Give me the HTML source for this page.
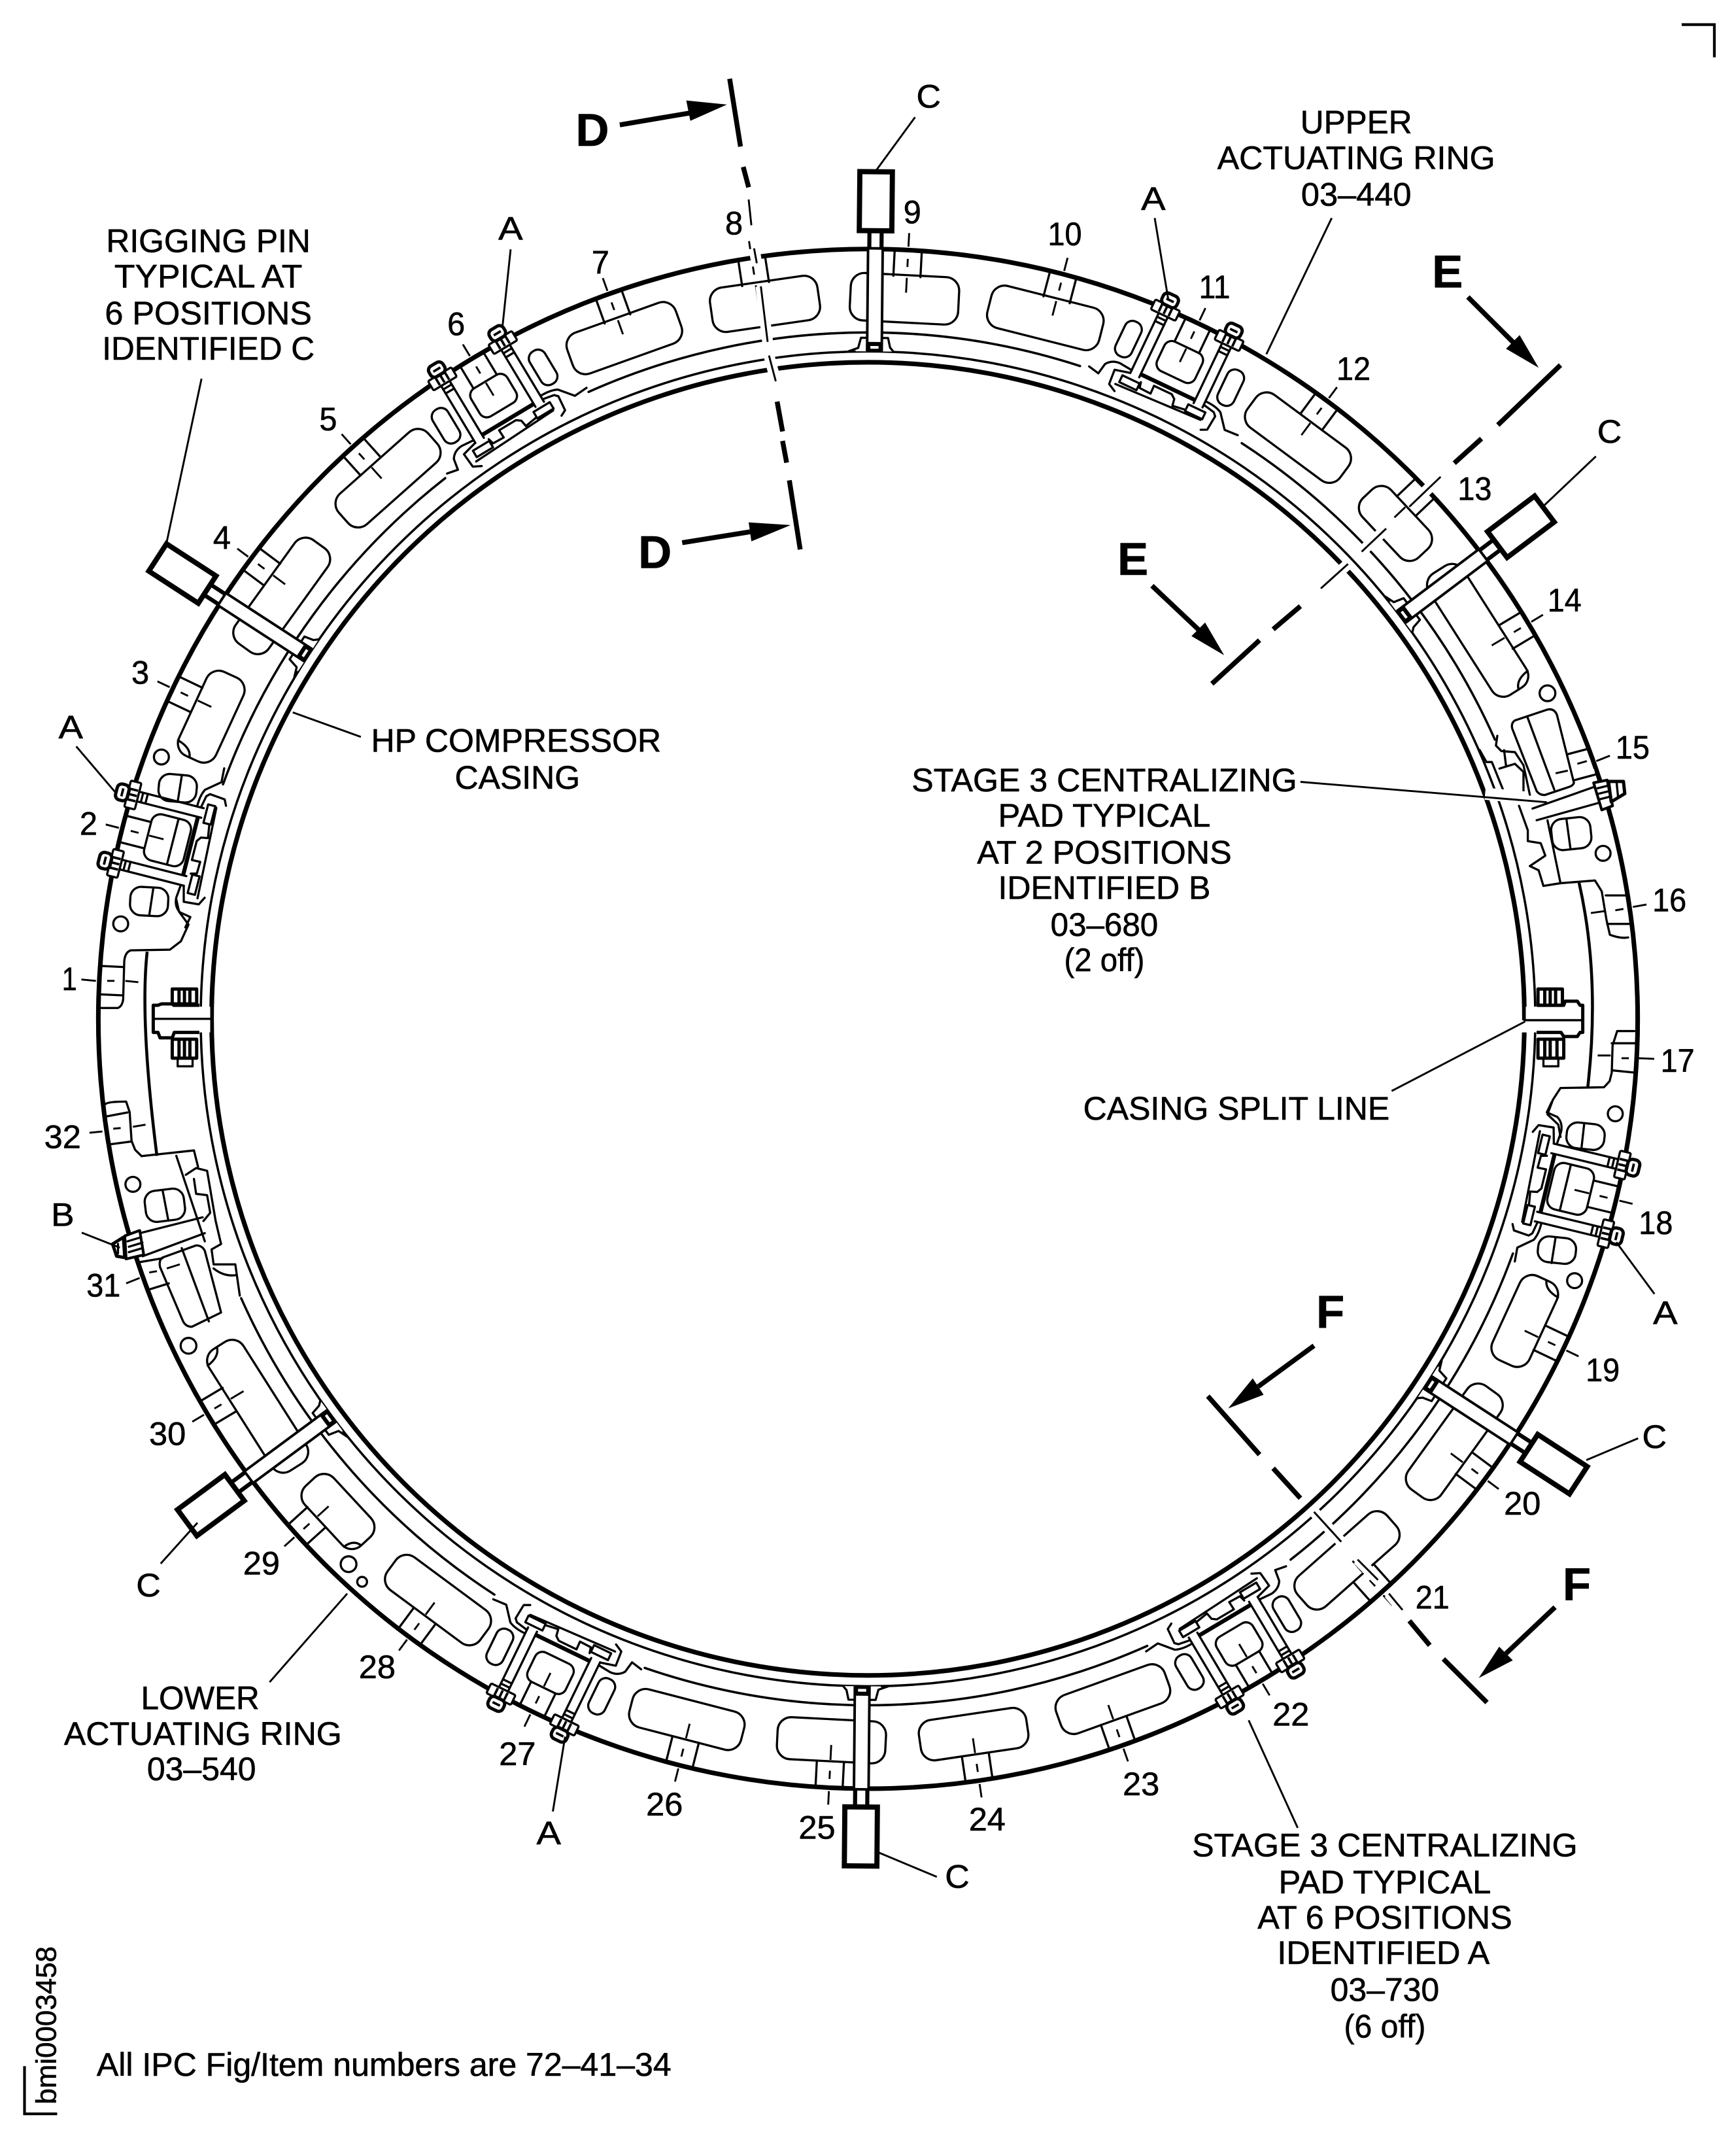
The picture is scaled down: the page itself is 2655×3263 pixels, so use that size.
<!DOCTYPE html>
<html><head><meta charset="utf-8"><title>Actuating ring</title>
<style>
html,body{margin:0;padding:0;background:#fff}
svg{display:block}
.t{fill:none;stroke:#000;stroke-width:1.6;stroke-linejoin:round;stroke-linecap:round}
.w{fill:#fff;stroke:#000;stroke-width:1.6;stroke-linejoin:round}
.m{fill:none;stroke:#000;stroke-width:2.4;stroke-linejoin:round}
.l{fill:none;stroke:#000;stroke-width:1.4}
.s{fill:none;stroke:#000;stroke-width:3.6}
.h{fill:none;stroke:#fff;stroke-width:8}
text{font-family:"Liberation Sans",sans-serif;font-size:24px;fill:#000;text-anchor:middle;stroke:#000;stroke-width:.3}
.b{font-weight:bold;font-size:34px}
</style></head><body>
<svg xmlns="http://www.w3.org/2000/svg" width="2655" height="3263" viewBox="0 0 1280 1573">
<defs>
<g id="win">
 <path class="t" d="M630 183V203M650 183V203"/>
 <path class="l" d="M640 190V196M640 204V215M640 171V181"/>
</g>
<g id="clamp">
 <path class="t" d="M610.5 189V238M617.8 189V238M662.2 189V238M669.5 189V238"/>
 <path d="M618 235.5H662" stroke="#000" stroke-width="3" fill="none"/>
 <path class="t" d="M620.4 240.7L621.5 245L630.5 245.3L630.3 239H644.8L648 241.4L648.9 246.5L659 245"/>
 <rect class="w" x="606" y="242" width="14" height="5.5"/>
 <rect class="w" x="659" y="240.5" width="14" height="5.5"/>
 <path class="t" d="M604 250L672 247"/>
 <path class="t" d="M581 246.6L589.3 248.3L590.8 240Q594 235 600.6 234.7L610 235.6M610 238L599 240.8L599.9 252L605.7 255"/>
 <path class="t" d="M670 236L678.5 237.7L680.7 240L679.6 251.4L675.3 253.5M670 233Q678 233 682.9 235.6L691.3 246L701.7 245.4"/>
 <rect class="w" x="604" y="181" width="20" height="8" rx="1"/>
 <rect class="w" x="656" y="181" width="20" height="8" rx="1"/>
 <rect class="m" x="608" y="172.5" width="12" height="9" rx="3.5"/>
 <rect class="m" x="660" y="172.5" width="12" height="9" rx="3.5"/>
 <path class="m" style="stroke-width:1.8" d="M611 177H617M663 177H669M610 182V188M614 182V188M618 182V188M662 182V188M666 182V188M670 182V188"/>
 <path class="t" d="M610.5 192H617.8M610.5 195.5H617.8M662.2 192H669.5M662.2 195.5H669.5"/>
</g>
<g id="slots">
 <rect class="t" x="592" y="202" width="13" height="28" rx="6"/>
 <rect class="t" x="675.5" y="202" width="13" height="28" rx="6"/>
</g>
<g id="pin">
 <path class="w" d="M626 259L628 256L630 249H650L651.5 256L654 259Z" style="stroke:none"/>
 <path class="t" d="M621 259L628 256.5L630 249H650L651.5 256L654 259"/>
 <rect x="634" y="170" width="12" height="14" fill="#000"/>
 <rect x="637" y="169" width="6" height="16" fill="#fff"/>
 <rect x="634.6" y="183" width="10.8" height="75" fill="#fff" stroke="#000" stroke-width="1.9"/>
 <rect x="634.6" y="252" width="10.8" height="7.5" fill="#000"/>
 <rect x="637" y="255" width="6" height="2" fill="#fff"/>
 <rect x="628" y="126.5" width="24" height="43.5" fill="#fff" stroke="#000" stroke-width="3.8"/>
</g>
</defs>
<rect width="1280" height="1573" fill="#fff"/>

<!-- main rings -->
<circle cx="640" cy="751" r="567.5" fill="none" stroke="#000" stroke-width="3.4"/>
<circle cx="640" cy="751" r="484" fill="none" stroke="#000" stroke-width="3.4"/>
<circle cx="640" cy="751" r="492" class="t" style="stroke-width:1.7"/>
<circle cx="640" cy="751" r="506" class="t" style="stroke-width:1.7" pathLength="360" transform="rotate(-90 640 751)" stroke-dasharray="18 15 33 44 32 14 43 14 33 44 32 14 24" />

<!-- pockets -->
<g transform="rotate(-19.7 640 751)"><rect class="t" x="597.5" y="202" width="85" height="32" rx="10"/></g><g transform="rotate(-19.7 640 751)"><use href="#win"/></g>
<g transform="rotate(-8.2 640 751)"><rect class="t" x="600" y="202" width="80" height="33" rx="10"/></g><g transform="rotate(-8.7 640 751)"><use href="#win"/></g>
<g transform="rotate(2.9 640 751)"><rect class="t" x="600" y="202" width="80" height="35" rx="10"/></g><g transform="rotate(3 640 751)"><use href="#win"/></g>
<g transform="rotate(14.2 640 751)"><rect class="t" x="597.5" y="202" width="85" height="32" rx="10"/></g><g transform="rotate(14.7 640 751)"><use href="#win"/></g>
<g transform="rotate(36.5 640 751)"><rect class="t" x="597.5" y="203" width="85" height="30" rx="10"/></g><g transform="rotate(36.6 640 751)"><use href="#win"/></g>
<g transform="rotate(46.8 640 751)"><rect class="t" x="610" y="203" width="60" height="29" rx="10"/></g><g transform="rotate(46.4 640 751)"><use href="#win"/></g>
<g transform="rotate(57.5 640 751)"><rect class="t" x="587" y="203" width="106" height="30" rx="10"/><path class="t" d="M693 216Q686 214 685 203"/></g><g transform="rotate(59.1 640 751)"><use href="#win"/></g>
<g transform="rotate(114.7 640 751)"><rect class="t" x="606" y="203" width="68" height="30" rx="10"/><path class="t" d="M606 216Q613 214 614 203"/></g><g transform="rotate(115.4 640 751)"><use href="#win"/></g>
<g transform="rotate(125.8 640 751)"><rect class="t" x="593" y="203" width="94" height="30" rx="10"/></g><g transform="rotate(126.7 640 751)"><use href="#win"/></g>
<g transform="rotate(138.5 640 751)"><rect class="t" x="596" y="203" width="88" height="30" rx="10"/></g><g transform="rotate(138.2 640 751)"><use href="#win"/></g>
<g transform="rotate(160.2 640 751)"><rect class="t" x="597.5" y="203" width="85" height="30" rx="10"/></g><g transform="rotate(160.7 640 751)"><use href="#win"/></g>
<g transform="rotate(171.6 640 751)"><rect class="t" x="600" y="203" width="80" height="30" rx="10"/></g><g transform="rotate(171.7 640 751)"><use href="#win"/></g>
<g transform="rotate(182.9 640 751)"><rect class="t" x="600" y="203" width="80" height="31" rx="10"/></g><g transform="rotate(182.9 640 751)"><use href="#win"/></g>
<g transform="rotate(194.5 640 751)"><rect class="t" x="597.5" y="203" width="85" height="29" rx="10"/></g><g transform="rotate(194.2 640 751)"><use href="#win"/></g>
<g transform="rotate(216.5 640 751)"><rect class="t" x="597.5" y="203" width="85" height="30" rx="10"/></g><g transform="rotate(216.6 640 751)"><use href="#win"/></g>
<g transform="rotate(227.1 640 751)"><rect class="t" x="610" y="203" width="60" height="29" rx="10"/><path class="t" d="M610 213Q617 212 618 203"/></g><g transform="rotate(227.9 640 751)"><use href="#win"/></g>
<g transform="rotate(237.6 640 751)"><rect class="t" x="587" y="203" width="106" height="30" rx="10"/><path class="t" d="M693 216Q686 214 685 203"/></g><g transform="rotate(239.2 640 751)"><use href="#win"/></g>
<g transform="rotate(294.7 640 751)"><rect class="t" x="606" y="203" width="68" height="30" rx="10"/><path class="t" d="M606 216Q613 214 614 203"/></g><g transform="rotate(295.4 640 751)"><use href="#win"/></g>
<g transform="rotate(305.8 640 751)"><rect class="t" x="593" y="203" width="94" height="30" rx="10"/></g><g transform="rotate(306.7 640 751)"><use href="#win"/></g>
<g transform="rotate(318.4 640 751)"><rect class="t" x="596" y="203" width="88" height="30" rx="10"/></g><g transform="rotate(318 640 751)"><use href="#win"/></g>

<!-- clamps -->
<g transform="rotate(25.4 640 751)"><use href="#slots"/><rect class="t" x="624.5" y="203" width="31" height="24" rx="6"/><use href="#win"/><use href="#clamp"/></g>
<g transform="rotate(329 640 751)"><use href="#slots"/><rect class="t" x="624.5" y="203" width="31" height="24" rx="6"/><use href="#win"/><use href="#clamp"/></g>
<g transform="rotate(149.3 640 751)"><use href="#slots"/><rect class="t" x="624.5" y="203" width="31" height="24" rx="6"/><use href="#win"/><use href="#clamp"/></g>
<g transform="rotate(205.9 640 751)"><use href="#slots"/><rect class="t" x="624.5" y="203" width="31" height="24" rx="6"/><use href="#win"/><use href="#clamp"/></g>
<g transform="rotate(103.6 640 751)"><rect class="t" x="622.5" y="203" width="35" height="30" rx="7"/><path class="t" d="M622.5 222H657.5"/><use href="#win"/><use href="#clamp"/></g>
<g transform="rotate(284.3 640 751)"><rect class="t" x="622.5" y="203" width="35" height="30" rx="7"/><path class="t" d="M622.5 222H657.5"/><use href="#win"/><use href="#clamp"/></g>

<!-- slots and holes at side clamps -->
<rect class="t" x="1144" y="603" width="29" height="23" rx="8" transform="rotate(-6 1158 614)"/><path class="t" d="M1155 604L1158 626"/>
<rect class="t" x="1155" y="828" width="28" height="19" rx="8" transform="rotate(6 1169 838)"/><path class="t" d="M1168 829L1166 847"/>
<rect class="t" x="1134" y="912" width="28" height="19" rx="8" transform="rotate(6 1148 921)"/><path class="t" d="M1147 912L1144 931"/>
<rect class="t" x="117" y="571" width="28" height="20" rx="8" transform="rotate(5 131 581)"/><path class="t" d="M134 572L131 591"/>
<rect class="t" x="96" y="654" width="28" height="21" rx="8" transform="rotate(3 110 664)"/><path class="t" d="M113 655L110 675"/>
<rect class="t" x="107" y="877" width="29" height="23" rx="8" transform="rotate(-7 121 888)"/><path class="t" d="M120 878L124 899"/>
<circle class="t" cx="1182" cy="629" r="5.5"/><circle class="t" cx="1191" cy="821" r="5.5"/><circle class="t" cx="1161" cy="944" r="5.5"/><circle class="t" cx="1141" cy="511" r="5.8"/>
<circle class="t" cx="119" cy="558" r="5.5"/><circle class="t" cx="89" cy="681" r="5.5"/><circle class="t" cx="98" cy="873" r="5.5"/><circle class="t" cx="139" cy="992" r="5.8"/>
<circle class="t" cx="257" cy="1153" r="5.8"/><circle class="t" cx="267" cy="1166" r="3.6"/>

<!-- pad right (B, stage 3) -->
<rect x="1110" y="575" width="70" height="28" fill="#fff" transform="rotate(-14 1145 590)"/>
<path class="t" d="M1130 596L1175.5 580M1133 604.6L1178 592"/>
<path class="t" d="M1104 542.4L1103 549.6L1107 553.6L1117 554.4L1123.3 564L1128 585.8M1105.6 566.5L1117 563L1123.3 569V583M1091 552.8L1096 561.7H1100L1109 584M1109 553L1110.4 564"/>
<path class="t" d="M1120 594L1126.5 612V620L1136 621.5L1139.4 630.7L1128 638.4L1134.5 641.5L1138 653L1150.6 651L1141 604.6"/>
<path class="t" d="M1150.6 651L1176 649L1181 657L1184.5 678L1187 689Q1195 692 1200.5 691"/>
<path class="t" d="M1184 660H1199M1185 681H1201"/>
<path class="l" d="M1191 671L1197 670M1173 673L1183 671.6M1204 668.5L1214 666.7"/>
<polygon class="w" style="stroke-width:2" points="1175,577 1185,575 1189,594 1181,597"/>
<polygon class="w" style="stroke-width:2.4" points="1186,576 1197,576 1198,585 1188,591"/>
<path class="t" d="M1178 581L1186 579M1179 585L1187 583M1180 589L1188 587M1192 577L1193 587"/>
<!-- pocket 15 -->
<path class="t" d="M1117 531L1141 523Q1146 522 1148 527L1160.5 577Q1160 579 1157 580L1139 586Q1135 586 1133 583L1115 537Q1114 533 1117 531Z"/>
<path class="t" d="M1126 528L1146 582M1155.6 556L1170.7 552M1161 575L1176 571"/>
<path class="l" d="M1163 563L1170 561M1147 570L1156 568M1177 561L1187 557"/>

<!-- pad left (B, stage 3) -->
<rect x="105" y="900" width="55" height="22" fill="#fff" transform="rotate(-12 130 910)"/>
<path class="t" d="M103 909L149.4 897.3M105.2 926L151 909"/>
<polygon class="w" style="stroke-width:2" points="92,911 103,907 106,925 93,928"/>
<polygon class="w" style="stroke-width:2.4" points="83,917 91,912 92,927 86,926"/>
<path class="t" d="M94 915L104 912M95 919L105 916M95 923L105 920M87 917V924"/>
<path class="t" d="M130 852L151 915M143 848L146 860M137 866L144.6 861L152.7 863L159 900L163 917L156 921L157.5 932L173.5 932L176.8 955M143 869L144.6 880L152.7 881L155 894L150 900M157.5 935Q165 941 173.5 940"/>
<!-- pocket 31 -->
<path class="t" d="M119.7 927L144.6 918Q149 918 151 922L163 967.5L141.4 978Q137 978 135 974L118 934Q117 929 119.7 927Z"/>
<path class="t" d="M134 920L154 974M102 930.5L119.7 927.5M110 950.5L124.5 946"/>
<path class="l" d="M110 938L115.7 937M93 946L103 942M123 935L132.6 932"/>

<!-- left tabs -->
<path class="t" d="M130 663L132 672L139 681.5L133.4 693.8L125.3 700L96.4 700.5Q92 702 91.6 709L90.8 736.8Q90 742 86.8 743H74.7"/>
<path class="t" d="M74.7 712L90.8 712.8M74.7 733L90.8 733.7"/>
<path class="l" d="M79 723L84.4 723M60 722L70.7 723M92.4 723L102 724"/>
<path d="M108.5 701.5Q103 752 115.7 852" fill="none" stroke="#000" stroke-width="2.2"/>
<path class="t" d="M78 813.7Q80 812 93 812L95.6 819.8L97 841L99.6 847.5L104.4 852.2L143 848"/>
<path class="t" d="M78 823L94 820M81 843.5L97 841.4"/>
<path class="l" d="M83.5 832L89 831.5M66 835L75.5 834M98 830.6L107.3 829"/>

<!-- right tabs -->
<path d="M1164.3 650.7Q1180 720 1170.7 801.4" fill="none" stroke="#000" stroke-width="2.2"/>
<path class="t" d="M1205 760H1192.4L1189 770.6L1188.4 790.6L1186.8 797L1182.7 801.4L1150.6 802L1145 810.6L1141 821.4L1149 829L1150.6 838"/>
<path class="t" d="M1188.4 769L1206 769M1189 789L1205 790.6"/>
<path class="l" d="M1195.6 780L1201 780M1178 778L1187.6 778M1208.4 780L1219.7 780.5"/>

<!-- flanges -->
<rect x="1125" y="742" width="42" height="19" fill="#fff"/>
<rect x="113" y="742" width="42" height="19" fill="#fff"/>
<path d="M1123 752V761" stroke="#fff" stroke-width="5"/>
<path class="m" d="M1133 741H1153L1154 738H1163L1165 741H1167V761H1165L1163 764H1153L1151 761H1133"/>
<path class="t" d="M1124 752H1167" />
<path class="m" d="M147 741H128L127 740H119L116.5 741H113V761H116.5L118 765H127L128.5 761H147"/>
<path class="t" d="M113 751H156"/>
<rect class="m" x="1134" y="729" width="18" height="12"/><path class="m" d="M1139 730V740M1143 730V740M1147 730V740"/>
<rect class="m" x="1134" y="766" width="19" height="14"/><path class="m" d="M1139 767V779M1143 767V779M1148 767V779"/>
<rect class="t" x="1138" y="780" width="11" height="6"/>
<rect class="m" x="127" y="729" width="18" height="11"/><path class="m" d="M132 730V739M136 730V739M140 730V739"/>
<rect class="m" x="127" y="766" width="18" height="14"/><path class="m" d="M132 767V779M136 767V779M140 767V779"/>
<rect class="t" x="131" y="780" width="11" height="6"/>

<!-- halo for stage 3 leader -->
<path d="M1095 585L1126 588" stroke="#fff" stroke-width="9" fill="none"/>

<!-- rigging pins -->
<g transform="rotate(0.55 640 751)"><use href="#pin"/></g>
<g transform="rotate(53 640 751)"><use href="#pin"/></g>
<g transform="rotate(123 640 751)"><use href="#pin"/></g>
<g transform="rotate(180.5 640 751)"><use href="#pin"/></g>
<g transform="rotate(233.5 640 751)"><use href="#pin"/></g>
<g transform="rotate(303 640 751)"><use href="#pin"/></g>

<!-- section D -->
<path class="h" d="M552 147L554 166M556 183L558 194M561 211L566 252M567 262L572 281"/>
<path class="s" d="M538 58L546 108M548 123L552 138M573 296L577 318M577 325L580 341M582 354L590 405"/>
<path class="l" d="M552 147L554 166M556 183L558 194M561 211L566 252M567 262L572 281"/>
<path class="s" d="M457 92L510 83M503 400L553 392"/>
<polygon points="536,77 506,74 509,89"/>
<polygon points="583,387 552,385 554,399"/>

<g transform="scale(1.004)">
<!-- section E -->
<path class="h" d="M1058 350L1035 372M1018 388L1000 405M990 414L970 432"/>
<path class="s" d="M1146 268L1100 312M1088 322L1068 340M955 445L935 462M925 470L890 502"/>
<path class="l" d="M1058 350L1035 372M1018 388L1000 405M990 414L970 432"/>
<path class="s" d="M1078 218L1112 252M846 430L881 463"/>
<polygon points="1130,270 1116,246 1106,256"/>
<polygon points="899,481 885,457 875,467"/>

<!-- section F -->
<path class="h" d="M965 1110L985 1132M997 1145L1012 1160M1020 1170L1030 1182"/>
<path class="s" d="M887 1025L925 1068M935 1078L955 1100M1035 1190L1050 1208M1060 1218L1092 1250"/>
<path class="l" d="M965 1110L985 1132M997 1145L1012 1160M1020 1170L1030 1182"/>
<path class="s" d="M965 988L924 1018M1142 1180L1106 1214"/>
<polygon points="902,1034 928,1024 920,1012"/>
<polygon points="1086,1232 1111,1219 1101,1209"/>

<!-- leaders -->
<path class="l" d="M672 86L642 127M1172 335L1133 372M1203 1056L1165 1072M118 1148L145 1118M688 1378L645 1360M148 278L122 400"/>
<path class="l" d="M848 160L858 220M375 183L369 240M56 548L85 582M1215 950L1187 912M406 1330L415 1275M60 905L88 916"/>
<path class="l" d="M978 160L930 260M265 541L215 523M955 574L1136 589M1022 801L1120 750M198 1235L255 1170M953 1342L917 1263"/>

<!-- corner marks -->
<path d="M1235 18H1259V42" fill="none" stroke="#000" stroke-width="2"/>
<path d="M18 1517V1552H42" fill="none" stroke="#000" stroke-width="2"/>

<!-- text -->
<text x="682" y="79" textLength="18" lengthAdjust="spacingAndGlyphs">C</text>
<text x="1182" y="325" textLength="18" lengthAdjust="spacingAndGlyphs">C</text>
<text x="1215" y="1063" textLength="18" lengthAdjust="spacingAndGlyphs">C</text>
<text x="109" y="1172" textLength="18" lengthAdjust="spacingAndGlyphs">C</text>
<text x="703" y="1386" textLength="18" lengthAdjust="spacingAndGlyphs">C</text>
<text x="375" y="176" textLength="18" lengthAdjust="spacingAndGlyphs">A</text>
<text x="847" y="154" textLength="18" lengthAdjust="spacingAndGlyphs">A</text>
<text x="52" y="542" textLength="18" lengthAdjust="spacingAndGlyphs">A</text>
<text x="1223" y="972" textLength="18" lengthAdjust="spacingAndGlyphs">A</text>
<text x="403" y="1354" textLength="18" lengthAdjust="spacingAndGlyphs">A</text>
<text x="46" y="900" textLength="17" lengthAdjust="spacingAndGlyphs">B</text>

<text class="b" x="435" y="107">D</text>
<text class="b" x="481" y="417">D</text>
<text class="b" x="1063" y="211">E</text>
<text class="b" x="832" y="422">E</text>
<text class="b" x="977" y="975">F</text>
<text class="b" x="1158" y="1175">F</text>

<text x="153" y="185" textLength="150" lengthAdjust="spacingAndGlyphs">RIGGING PIN</text>
<text x="153" y="211" textLength="138" lengthAdjust="spacingAndGlyphs">TYPICAL AT</text>
<text x="153" y="238" textLength="152" lengthAdjust="spacingAndGlyphs">6 POSITIONS</text>
<text x="153" y="264" textLength="156" lengthAdjust="spacingAndGlyphs">IDENTIFIED C</text>
<text x="996" y="98" textLength="82" lengthAdjust="spacingAndGlyphs">UPPER</text>
<text x="996" y="124" textLength="204" lengthAdjust="spacingAndGlyphs">ACTUATING RING</text>
<text x="996" y="151" textLength="81" lengthAdjust="spacingAndGlyphs">03–440</text>
<text x="379" y="552" textLength="213" lengthAdjust="spacingAndGlyphs">HP COMPRESSOR</text>
<text x="380" y="579" textLength="92" lengthAdjust="spacingAndGlyphs">CASING</text>
<text x="811" y="581" textLength="283" lengthAdjust="spacingAndGlyphs">STAGE 3 CENTRALIZING</text>
<text x="811" y="607" textLength="156" lengthAdjust="spacingAndGlyphs">PAD TYPICAL</text>
<text x="811" y="634" textLength="187" lengthAdjust="spacingAndGlyphs">AT 2 POSITIONS</text>
<text x="811" y="660" textLength="156" lengthAdjust="spacingAndGlyphs">IDENTIFIED B</text>
<text x="811" y="687" textLength="79" lengthAdjust="spacingAndGlyphs">03–680</text>
<text x="811" y="713" textLength="59" lengthAdjust="spacingAndGlyphs">(2 off)</text>
<text x="908" y="822" textLength="225" lengthAdjust="spacingAndGlyphs">CASING SPLIT LINE</text>
<text x="147" y="1255" textLength="87" lengthAdjust="spacingAndGlyphs">LOWER</text>
<text x="149" y="1281" textLength="204" lengthAdjust="spacingAndGlyphs">ACTUATING RING</text>
<text x="148" y="1307" textLength="80" lengthAdjust="spacingAndGlyphs">03–540</text>
<text x="1017" y="1363" textLength="283" lengthAdjust="spacingAndGlyphs">STAGE 3 CENTRALIZING</text>
<text x="1017" y="1390" textLength="156" lengthAdjust="spacingAndGlyphs">PAD TYPICAL</text>
<text x="1017" y="1416" textLength="187" lengthAdjust="spacingAndGlyphs">AT 6 POSITIONS</text>
<text x="1016" y="1442" textLength="156" lengthAdjust="spacingAndGlyphs">IDENTIFIED A</text>
<text x="1017" y="1469" textLength="80" lengthAdjust="spacingAndGlyphs">03–730</text>
<text x="1017" y="1496" textLength="60" lengthAdjust="spacingAndGlyphs">(6 off)</text>
<text x="282" y="1524" textLength="422" lengthAdjust="spacingAndGlyphs">All IPC Fig/Item numbers are 72–41–34</text>
<text x="0" y="0" transform="translate(41 1487) rotate(-90)" style="font-size:21px" textLength="116" lengthAdjust="spacingAndGlyphs">bmi0003458</text>

<text x="51" y="727" textLength="11" lengthAdjust="spacingAndGlyphs">1</text>
<text x="65" y="613" textLength="13" lengthAdjust="spacingAndGlyphs">2</text>
<text x="103" y="502" textLength="13" lengthAdjust="spacingAndGlyphs">3</text>
<text x="163" y="403" textLength="13" lengthAdjust="spacingAndGlyphs">4</text>
<text x="241" y="316" textLength="13" lengthAdjust="spacingAndGlyphs">5</text>
<text x="335" y="246" textLength="13" lengthAdjust="spacingAndGlyphs">6</text>
<text x="441" y="201" textLength="13" lengthAdjust="spacingAndGlyphs">7</text>
<text x="539" y="172" textLength="13" lengthAdjust="spacingAndGlyphs">8</text>
<text x="670" y="164" textLength="13" lengthAdjust="spacingAndGlyphs">9</text>
<text x="782" y="180" textLength="25" lengthAdjust="spacingAndGlyphs">10</text>
<text x="892" y="219" textLength="23" lengthAdjust="spacingAndGlyphs">11</text>
<text x="994" y="279" textLength="25" lengthAdjust="spacingAndGlyphs">12</text>
<text x="1083" y="367" textLength="25" lengthAdjust="spacingAndGlyphs">13</text>
<text x="1149" y="449" textLength="25" lengthAdjust="spacingAndGlyphs">14</text>
<text x="1199" y="557" textLength="25" lengthAdjust="spacingAndGlyphs">15</text>
<text x="1226" y="669" textLength="25" lengthAdjust="spacingAndGlyphs">16</text>
<text x="1232" y="787" textLength="25" lengthAdjust="spacingAndGlyphs">17</text>
<text x="1216" y="906" textLength="25" lengthAdjust="spacingAndGlyphs">18</text>
<text x="1177" y="1014" textLength="25" lengthAdjust="spacingAndGlyphs">19</text>
<text x="1118" y="1112" textLength="27" lengthAdjust="spacingAndGlyphs">20</text>
<text x="1052" y="1181" textLength="25" lengthAdjust="spacingAndGlyphs">21</text>
<text x="948" y="1267" textLength="27" lengthAdjust="spacingAndGlyphs">22</text>
<text x="838" y="1318" textLength="27" lengthAdjust="spacingAndGlyphs">23</text>
<text x="725" y="1344" textLength="27" lengthAdjust="spacingAndGlyphs">24</text>
<text x="600" y="1350" textLength="27" lengthAdjust="spacingAndGlyphs">25</text>
<text x="488" y="1333" textLength="27" lengthAdjust="spacingAndGlyphs">26</text>
<text x="380" y="1296" textLength="27" lengthAdjust="spacingAndGlyphs">27</text>
<text x="277" y="1232" textLength="27" lengthAdjust="spacingAndGlyphs">28</text>
<text x="192" y="1156" textLength="27" lengthAdjust="spacingAndGlyphs">29</text>
<text x="123" y="1061" textLength="27" lengthAdjust="spacingAndGlyphs">30</text>
<text x="76" y="952" textLength="25" lengthAdjust="spacingAndGlyphs">31</text>
<text x="46" y="843" textLength="27" lengthAdjust="spacingAndGlyphs">32</text>
</g>
</svg>
</body></html>
